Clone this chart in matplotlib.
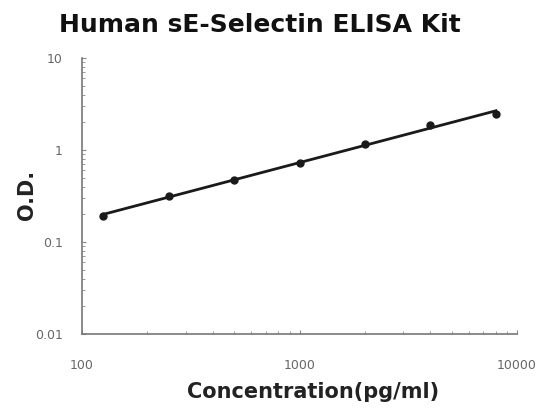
import numpy as np
import matplotlib
matplotlib.use("Agg")
import matplotlib.pyplot as plt
from matplotlib.ticker import LogLocator, FixedLocator, NullFormatter

# standard curve readings
concentration = [125, 250, 500, 1000, 2000, 4000, 8000]
od = [0.192, 0.316, 0.472, 0.72, 1.16, 1.87, 2.46]
x_ticks = [100, 1000, 10000]
x_tick_labels = ["100", "1000", "10000"]
y_ticks = [0.01, 0.1, 1, 10]
y_tick_labels = ["0.01", "0.1", "1", "10"]


def main():
    plt.rcParams['font.family'] = ['DejaVu Sans']
    fig = plt.figure(figsize=(5.43, 4.12), dpi=100)
    ax = fig.add_axes([82 / 543, 1 - 334 / 412, 435 / 543, 276 / 412])

    # log-log linear fit
    lx = np.log10(concentration)
    ly = np.log10(od)
    k, b = np.polyfit(lx, ly, 1)
    xfit = np.array([concentration[0], concentration[-1]])
    ax.plot(xfit, 10 ** (k * np.log10(xfit) + b), color="#1a1a1a", lw=2)
    ax.plot(concentration, od, "o", color="#1a1a1a", ms=5)

    ax.set_xscale("log")
    ax.set_yscale("log")
    ax.set_xlim(100, 10000)
    ax.set_ylim(0.01, 10)
    ax.xaxis.set_major_locator(FixedLocator(x_ticks))
    ax.set_xticklabels(x_tick_labels)
    ax.yaxis.set_major_locator(FixedLocator(y_ticks))
    ax.set_yticklabels(y_tick_labels)
    ax.xaxis.set_minor_locator(LogLocator(base=10, subs=np.arange(2, 10)))
    ax.yaxis.set_minor_locator(LogLocator(base=10, subs=np.arange(2, 10)))
    ax.xaxis.set_minor_formatter(NullFormatter())
    ax.yaxis.set_minor_formatter(NullFormatter())

    ax.spines["top"].set_visible(False)
    ax.spines["right"].set_visible(False)
    for s in ["left", "bottom"]:
        ax.spines[s].set_color("#777777")
        ax.spines[s].set_linewidth(1.2)
    ax.tick_params(which="both", direction="in", color="#888888")
    ax.tick_params(which="major", length=3, labelsize=9, labelcolor="#666666")
    ax.tick_params(which="minor", length=2.5)
    ax.tick_params(axis="x", which="major", pad=18)
    ax.tick_params(axis="y", which="major", pad=14)

    fig.text(313 / 543, 1 - 392 / 412, "Concentration(pg/ml)", ha="center",
             va="center", fontsize=15, fontweight="bold", color="#222222")
    fig.text(27 / 543, 1 - 195 / 412, "O.D.", ha="center", va="center",
             rotation=90, fontsize=15, fontweight="bold", color="#222222")
    fig.text(260 / 543, 1 - 25 / 412, "Human sE-Selectin ELISA Kit", ha="center",
             va="center", fontsize=18, fontweight="bold", color="#111111")

    plt.savefig("out.png", dpi=100)


if __name__ == "__main__":
    main()
